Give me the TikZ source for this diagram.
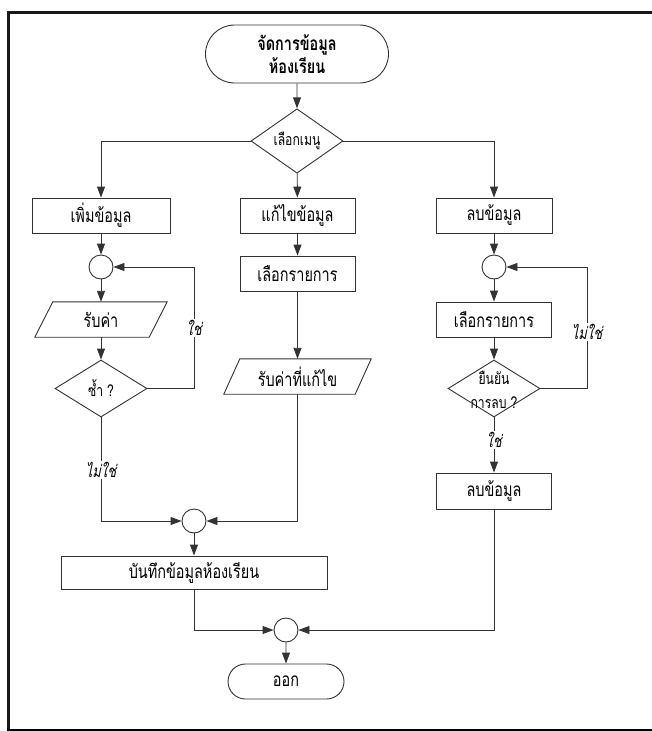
\documentclass[tikz,border=0pt]{standalone}
\usepackage{fontspec}
\newfontfamily\thaifont[Script=Thai,FakeStretch=0.76]{Loma}
\newfontfamily\thaiit[Script=Thai,FakeStretch=0.76,FakeSlant=0.2]{Loma}
\usetikzlibrary{arrows.meta,shapes.geometric,shapes.misc}
\tikzset{
  ln/.style={draw=black!80, line width=0.9pt},
  arr/.style={ln, -{Triangle[length=11pt,width=8pt]}},
  procbox/.style={draw=black!80, line width=0.9pt, rectangle, minimum height=35pt, inner sep=0pt, font=\thaifont\fontsize{19}{21}\selectfont},
  termbox/.style={draw=black!80, line width=0.9pt, rounded rectangle, inner sep=0pt, font=\thaifont\fontsize{19}{21}\selectfont},
  iobox/.style={rectangle, minimum height=35pt, inner sep=0pt, font=\thaifont\fontsize{19}{21}\selectfont},
  decbox/.style={draw=black!80, line width=0.9pt, diamond, inner sep=0pt, minimum width=92pt, minimum height=57pt, font=\thaifont\fontsize{16}{18}\selectfont},
  joint/.style={draw=black!80, line width=0.9pt, circle, minimum size=24pt, inner sep=0pt},
  lbl/.style={fill=white, inner sep=1pt, font=\thaiit\fontsize{17}{19}\selectfont},
}
\begin{document}
\begin{tikzpicture}[x=1pt,y=-1pt]
\useasboundingbox (0,0) rectangle (652,731);
% frame
\draw[line width=3pt, black!90] (652,12.5) -- (8.5,12.5) -- (8.5,731);
\draw[line width=2pt, black] (7,730) -- (652,730);

% nodes
\node[termbox, minimum width=183pt, minimum height=58pt, align=center, font=\thaifont\bfseries\fontsize{19}{23}\selectfont] (start) at (297,54) {จัดการข้อมูล\\ห้องเรียน};
\node[decbox] (menu) at (297,141) {เลือกเมนู};

\node[procbox, minimum width=138pt] (add) at (101,215.5) {เพิ่มข้อมูล};
\node[procbox, minimum width=115pt] (edit) at (297.5,215.5) {แก้ไขข้อมูล};
\node[procbox, minimum width=116pt] (del) at (494,215.5) {ลบข้อมูล};

% left column
\node[joint] (c1) at (101,267) {};
\node[iobox, minimum width=132pt] (in1) at (101,319.5) {รับค่า};
\draw[ln] ([xshift=18pt]in1.north west) -- (in1.north east) -- ([xshift=-18pt]in1.south east) -- (in1.south west) -- cycle;
\node[decbox] (dup) at (101,388.5) {ซ้ำ ?};
\coordinate (lp) at (194,388.5);

% middle column
\node[procbox, minimum width=115pt] (sel1) at (297.5,273.5) {เลือกรายการ};
\node[iobox, minimum width=147pt] (in2) at (297.5,376.5) {รับค่าที่แก้ไข};
\draw[ln] ([xshift=16pt]in2.north west) -- (in2.north east) -- ([xshift=-16pt]in2.south east) -- (in2.south west) -- cycle;

% right column
\node[joint] (c2) at (494,267) {};
\node[procbox, minimum width=115pt] (sel2) at (494,319.5) {เลือกรายการ};
\node[decbox] (conf) at (494,388.5) {};
\node[font=\thaifont\fontsize{16}{18}\selectfont] (confa) at (494,378) {ยืนยัน};
\node[font=\thaifont\fontsize{16}{18}\selectfont] (confb) at (494,403) {การลบ ?};
\coordinate (rp) at (587,388.5);
\node[procbox, minimum width=115pt, minimum height=36pt] (del2) at (494,491) {ลบข้อมูล};

% merges
\node[joint] (m1) at (194,521) {};
\node[procbox, minimum width=266pt, minimum height=33pt] (save) at (194,572.5) {บันทึกข้อมูลห้องเรียน};
\node[joint] (m2) at (286,630) {};
\node[termbox, minimum width=116pt, minimum height=35pt] (finish) at (286,681.5) {ออก};

% connectors
\draw[arr] (start) -- (menu);
\draw[arr] (menu.west) -| (add.north);
\draw[arr] (menu.east) -| (del.north);
\draw[arr] (menu) -- (edit);

\draw[arr] (add) -- (c1);
\draw[arr] (c1) -- (in1);
\draw[arr] (in1) -- (dup);
\draw[arr] (dup.east) -- (lp) |- (c1.east);
\node[lbl] (yes1) at (194,328) {ใช่};
\draw[arr] (dup.south) |- (m1.west);
\node[lbl] (no1) at (101,470) {ไม่ใช่};

\draw[arr] (edit) -- (sel1);
\draw[arr] (sel1) -- (in2);
\draw[arr] (in2.south) |- (m1.east);

\draw[arr] (del) -- (c2);
\draw[arr] (c2) -- (sel2);
\draw[arr] (sel2) -- (conf);
\draw[arr] (conf.east) -- (rp) |- (c2.east);
\node[lbl] (no2) at (587,332) {ไม่ใช่};
\draw[arr] (conf.south) -- (del2.north);
\node[lbl] (yes2) at (494,440) {ใช่};

\draw[arr] (m1) -- (save);
\draw[arr] (save.south) |- (m2.west);
\draw[arr] (del2.south) |- (m2.east);
\draw[arr] (m2) -- (finish);
\end{tikzpicture}
\end{document}
